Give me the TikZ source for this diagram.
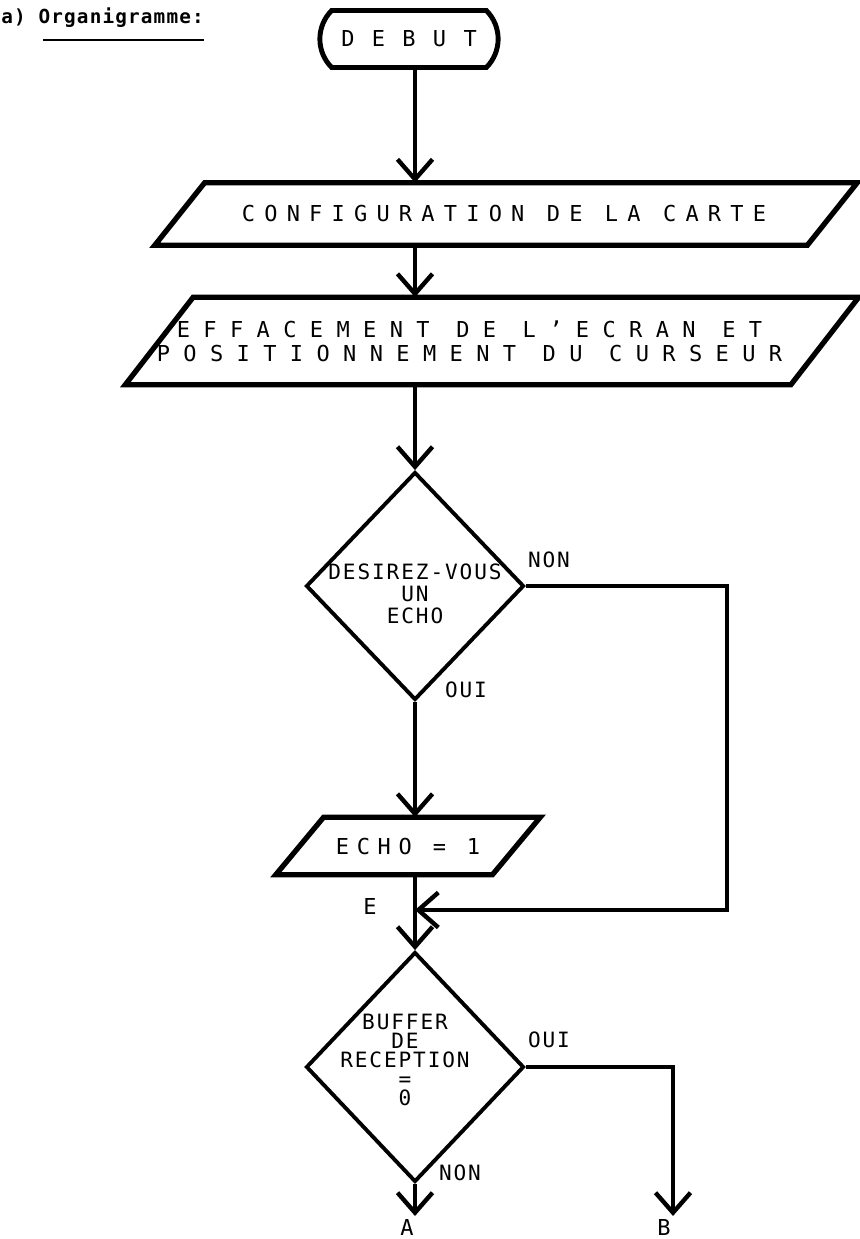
\documentclass[tikz,border=0pt]{standalone}
\usepackage{fontspec}
\setmainfont{DejaVu Sans Mono}
\usetikzlibrary{shapes.geometric,shapes.misc,arrows.meta}

% espacement des lettres (imprimante)
\newcommand\espace[1]{\addfontfeature{LetterSpace=#1}}
% contour penche autour d'un noeud : nom, demi-decalage en px
\newcommand\penche[2]{%
  \draw[bord] ([xshift=#2*0.02cm]#1.north west) -- ([xshift=#2*0.02cm]#1.north east)
    -- ([xshift=-#2*0.02cm]#1.south east) -- ([xshift=-#2*0.02cm]#1.south west) -- cycle;}

\tikzset{
  trait/.style={line width=2.5pt},
  bord/.style={line width=3pt, line join=miter},
  fleche/.style={trait, -{Straight Barb[length=4mm,width=7mm]}},
  bloc/.style={inner sep=0pt, align=center, font=\fontsize{12.5}{13.5}\selectfont},
  decision/.style={diamond, draw, line width=2.2pt, inner sep=0pt,
    minimum width=4.36cm, minimum height=4.56cm},
  decitexte/.style={align=center, inner sep=0pt, font=\fontsize{12}{12.5}\selectfont\espace{9}},
  etiq/.style={inner sep=1pt, font=\fontsize{12}{12}\selectfont\espace{9}},
  lettre/.style={inner sep=1pt, font=\fontsize{12.5}{13}\selectfont}
}

\begin{document}
\begin{tikzpicture}[x=0.02cm,y=-0.02cm]
  \useasboundingbox (0,0) rectangle (859,1239);
  \fill[white] (0,0) rectangle (859,1239);

  % titre
  \node[anchor=west, inner sep=0pt, font=\fontsize{11}{12}\selectfont\bfseries\espace{6}] (titre) at (1,18) {a) Organigramme:};
  \draw[line width=1.3pt] (43,40) -- (204,40);

  % blocs
  \node[rounded rectangle, rounded rectangle arc length=90, draw, line width=2.8pt,
        minimum width=3.8cm, minimum height=1.14cm, font=\fontsize{12.5}{13}\selectfont\espace{79}] (debut) at (409,39) {DEBUT};
  \node[minimum width=13.04cm, minimum height=1.24cm, inner sep=0pt,
        label={[bloc, xshift=-0.04cm]center:\espace{42}CONFIGURATION DE LA CARTE}] (cfg) at (506,214) {};
  \penche{cfg}{25}
  \node[minimum width=13.3cm, minimum height=1.74cm, inner sep=0pt,
        label={[bloc, xshift=-0.45cm]center:\espace{61}EFFACEMENT DE L'ECRAN ET\\\espace{61}POSITIONNEMENT DU CURSEUR}] (eff) at (492,341) {};
  \penche{eff}{34}
  \node[decision, label={[decitexte, yshift=-0.16cm]center:DESIREZ-VOUS\\UN\\ECHO}] (d1) at (415,586) {};
  \node[bloc, minimum width=4.32cm, minimum height=1.14cm] (echo) at (408,846) {\espace{35}ECHO = 1};
  \penche{echo}{24}
  \node[decision, minimum height=4.6cm, label={[decitexte, font=\fontsize{12}{10.8}\selectfont\espace{9}, xshift=-0.2cm, yshift=0.14cm]center:BUFFER\\DE\\RECEPTION\\=\\0}] (d2) at (415,1067) {};

  % etiquettes
  \node[etiq] (non1) at (549,560) {NON};
  \node[etiq] (oui1) at (466,690) {OUI};
  \node[lettre] (e) at (370,906) {E};
  \node[etiq] (oui2) at (549,1040) {OUI};
  \node[etiq] (non2) at (460,1173) {NON};
  \node[lettre] (a) at (407,1227) {A};
  \node[lettre] (b) at (664,1227) {B};

  \coordinate (jonction) at (415,910);
  \coordinate (retour) at (727,910);
  \coordinate (finA) at (415,1216);
  \coordinate (finB) at (673,1216);

  % liaisons
  \draw[fleche] (debut.south -| d1) -- (cfg.north -| d1);
  \draw[fleche] (cfg.south -| d1) -- (eff.north -| d1);
  \draw[fleche] (eff.south -| d1) -- (d1.north);
  \draw[fleche] (d1.south) -- (echo.north -| d1);
  \draw[fleche] (d1.east) -| (retour) -- (jonction);
  \draw[fleche] (echo.south -| d2) -- (d2.north);
  \draw[fleche] (d2.south) -- (finA);
  \draw[fleche] (d2.east) -| (finB);
\end{tikzpicture}
\end{document}
